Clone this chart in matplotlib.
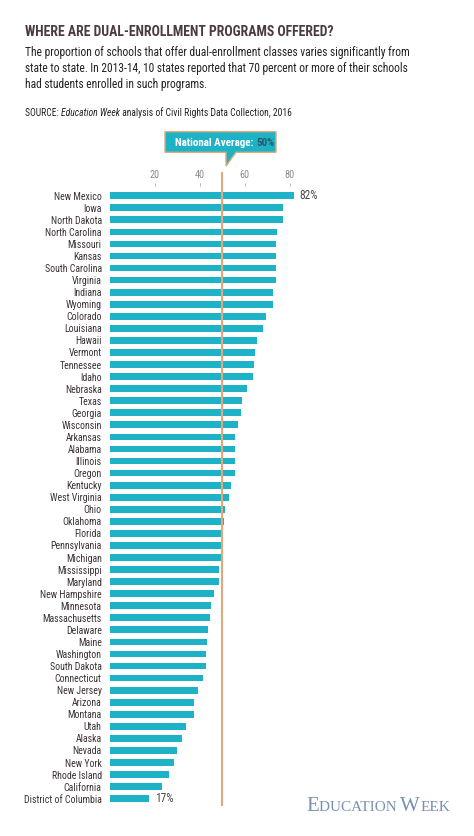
import matplotlib
matplotlib.use('Agg')
import matplotlib.pyplot as plt
from matplotlib.patches import Polygon

# Données : part des écoles offrant des cours en double inscription (%)
states = ['New Mexico', 'Iowa', 'North Dakota', 'North Carolina', 'Missouri', 'Kansas',
          'South Carolina', 'Virginia', 'Indiana', 'Wyoming', 'Colorado', 'Louisiana',
          'Hawaii', 'Vermont', 'Tennessee', 'Idaho', 'Nebraska', 'Texas', 'Georgia',
          'Wisconsin', 'Arkansas', 'Alabama', 'Illinois', 'Oregon', 'Kentucky',
          'West Virginia', 'Ohio', 'Oklahoma', 'Florida', 'Pennsylvania', 'Michigan',
          'Mississippi', 'Maryland', 'New Hampshire', 'Minnesota', 'Massachusetts',
          'Delaware', 'Maine', 'Washington', 'South Dakota', 'Connecticut', 'New Jersey',
          'Arizona', 'Montana', 'Utah', 'Alaska', 'Nevada', 'New York', 'Rhode Island',
          'California', 'District of Columbia']
values = [82.0, 77.1, 77.0, 74.6, 74.1, 74.0, 74.0, 73.8, 72.6, 72.5, 69.5, 68.2,
          65.5, 64.5, 64.2, 63.7, 61.2, 59.0, 58.4, 57.0, 55.9, 55.9, 55.7, 55.5, 53.9,
          52.9, 51.4, 50.8, 50.4, 49.3, 49.3, 48.6, 48.4, 46.2, 45.2, 44.4,
          43.7, 43.2, 42.9, 42.8, 41.6, 39.4, 37.6, 37.3, 34.0, 32.1, 29.7, 28.5, 26.2,
          23.2, 17.4]
value_labels = {0: '82%', 50: '17%'}
national_avg = 50
ticks = [20, 40, 60, 80]

plt.rcParams['font.family'] = ['Roboto Condensed', 'DejaVu Sans']

W, H = 474, 836
BAR = '#1db2c5'
LINE = '#e3a879'

def px(x, y):
    return (x / W, 1 - y / H)

fig = plt.figure(figsize=(W / 100, H / 100), dpi=100)

# texte placé juste après un autre, sur la même ligne de base
def follow(prev, s, **kw):
    fig.canvas.draw()
    bb = prev.get_window_extent()
    x0, y0 = prev.get_position()
    return fig.text(bb.x1 / fig.bbox.width, y0, s, va='baseline', ha='left', **kw)

ax = fig.add_axes([110 / W, 1 - 808 / H, 1 - 110 / W, (808 - 186) / H])
ax.patch.set_visible(False)

y = list(range(len(states)))
ax.barh(y, values, height=0.56, color=BAR, zorder=2)
ax.set_xlim(0, (W - 110) / 2.244)
ax.set_ylim(50.77, -0.804)
ax.set_yticks(y)
ax.set_yticklabels(states, fontsize=7.1, color='#3c3236')
ax.tick_params(axis='y', length=0, pad=6)
ax.xaxis.tick_top()
ax.set_xticks(ticks)
ax.set_xticklabels([str(t) for t in ticks], fontsize=7.3, color='#8a8a8a')
ax.tick_params(axis='x', length=2, width=0.6, color='#aaaaaa', pad=2)
for s in ax.spines.values():
    s.set_visible(False)

for i, lab in value_labels.items():
    ax.text(values[i] + 2.6, i, lab, fontsize=8.3, color='#4a4a4a', va='center', ha='left')

# Ligne de la moyenne nationale
ax.axvline(national_avg, ymin=0.005, ymax=1.021, color=LINE, lw=1.5, zorder=3, clip_on=False)

# Bulle "National Average"
pts = [px(165, 131.7), px(276, 131.7), px(276, 152.3), px(236, 152.3), px(226, 166),
       px(226, 152.3), px(165, 152.3)]
fig.patches.append(Polygon(pts, closed=True, transform=fig.transFigure,
                           facecolor=BAR, edgecolor=LINE, lw=1.0, zorder=-1))
t1 = fig.text(*px(175, 146), 'National Average: ', fontsize=7.9, fontweight='bold',
              color='white', va='baseline', ha='left')
follow(t1, '50%', fontsize=7.9, fontweight='bold', color='#2c5866')

# Titre, sous-titre et source
fig.text(*px(25, 36), 'WHERE ARE DUAL-ENROLLMENT PROGRAMS OFFERED?', fontsize=9.9,
         fontweight='bold', color='#4b3b3e', va='baseline', ha='left')
sub = ('The proportion of schools that offer dual-enrollment classes varies significantly from\n'
       'state to state. In 2013-14, 10 states reported that 70 percent or more of their schools\n'
       'had students enrolled in such programs.')
fig.text(*px(25, 46), sub, fontsize=8.3, color='#222222', va='top', ha='left', linespacing=1.3)
s1 = fig.text(*px(25, 115.5), 'SOURCE: ', fontsize=6.9, color='#222222', va='baseline', ha='left')
s2 = follow(s1, 'Education Week', fontsize=6.9, style='italic', color='#222222')
follow(s2, ' analysis of Civil Rights Data Collection, 2016', fontsize=6.9, color='#222222')

# Logo
serif = ['Liberation Serif', 'DejaVu Serif']
logo_col = '#7890b2'
e1 = fig.text(*px(306, 811), 'E', fontsize=15, family=serif, color=logo_col, va='baseline')
e2 = follow(e1, 'DUCATION ', fontsize=11, family=serif, color=logo_col)
e3 = follow(e2, 'W', fontsize=15, family=serif, color=logo_col)
follow(e3, 'EEK', fontsize=11, family=serif, color=logo_col)

fig.savefig('out.png', dpi=100)
